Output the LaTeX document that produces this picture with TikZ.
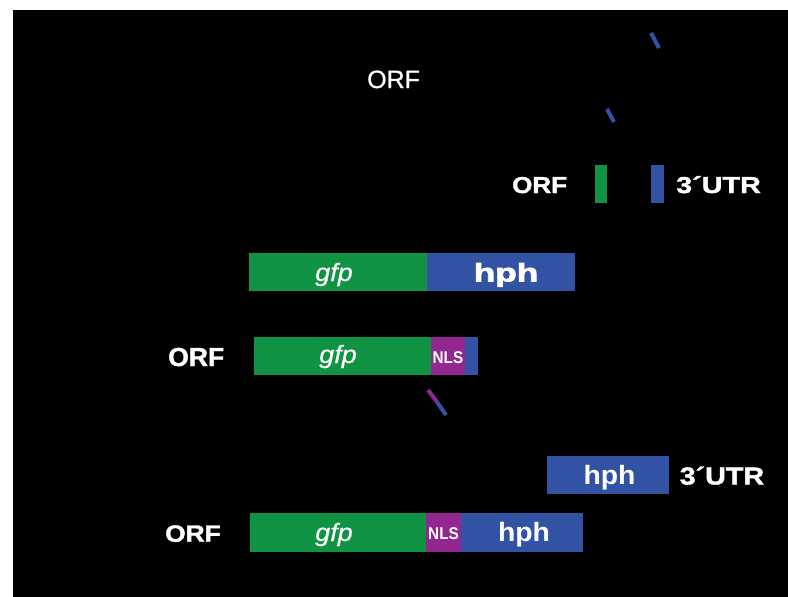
\documentclass[tikz,border=0pt]{standalone}
\usepackage{fontspec}
\usepackage{graphicx}
\setmainfont{Liberation Sans}
\newfontfamily\heavy{Liberation Sans Bold}[FakeBold=1.5]
\newfontfamily\heavier{Liberation Sans Bold}[FakeBold=2.5]
\newfontfamily\semi{Liberation Sans}[FakeBold=0.8]
\newfontfamily\slanted{Liberation Sans Italic}[FakeBold=0.4]
\definecolor{genegreen}{RGB}{16,148,68}
\definecolor{geneblue}{RGB}{50,82,164}
\definecolor{nlspurple}{RGB}{146,39,143}
\newcommand\fs[1]{\fontsize{#1}{#1}\selectfont}
\newcommand\hs[2]{\scalebox{#1}[1]{#2}}

\begin{document}
\begin{tikzpicture}[x=1pt,y=-1pt,
  seg/.style={draw=none, inner sep=0pt, outer sep=0pt, anchor=north west},
  lbl/.style={text=white, inner sep=0pt, anchor=base},
  lbll/.style={lbl, anchor=base west},
  tick/.style={line width=4pt}]
\useasboundingbox (0,0) rectangle (788,597);
\fill[white] (0,0) rectangle (788,597);
\fill[black] (13,10) rectangle (788,597);

% short strokes
\draw[tick, geneblue] (651,33) -- (659,48);
\draw[tick, geneblue] (607,109) -- (614,122);
\draw[tick, nlspurple] (428,390) -- (437,402);
\draw[tick, geneblue] (437,402) -- (446,415);

% top label
\node[lbll] (orfA) at (367,88) {\semi\fs{25}ORF};

% row 2: ORF | 3'UTR
\node[lbll] (orfB) at (512,193) {\heavy\fs{23}\hs{1.13}{ORF}};
\node[seg, fill=genegreen, minimum width=12pt, minimum height=38pt] (gB) at (595,165) {};
\node[seg, fill=geneblue, minimum width=13pt, minimum height=38pt] (bB) at (651,165) {};
\node[lbll] (utrB) at (676,193) {\heavy\fs{23}\hs{1.25}{3´UTR}};

% row 3: gfp-hph fusion
\node[seg, fill=genegreen, minimum width=178pt, minimum height=38pt] (gC) at (249,253) {};
\node[seg, fill=geneblue, minimum width=148pt, minimum height=38pt] (bC) at (427,253) {};
\node[lbl] (gfpC) at (334,281) {\slanted\fs{25}\hs{1.08}{gfp}};
\node[lbl] (hphC) at (506,281.5) {\heavier\fs{25.5}\hs{1.38}{hph}};

% row 4: ORF gfp NLS
\node[lbll] (orfD) at (168,366) {\heavy\fs{26}\hs{1.02}{ORF}};
\node[seg, fill=genegreen, minimum width=177pt, minimum height=38pt] (gD) at (254,337) {};
\node[seg, fill=nlspurple, minimum width=34pt, minimum height=38pt] (nD) at (431,337) {};
\node[seg, fill=geneblue, minimum width=13pt, minimum height=38pt] (bD) at (465,337) {};
\node[lbl] (gfpD) at (338,363) {\slanted\fs{25}\hs{1.08}{gfp}};
\node[lbl] (nlsD) at (448,363) {\bfseries\fs{17}\hs{0.9}{NLS}};

% row 5: hph 3'UTR
\node[seg, fill=geneblue, minimum width=122.5pt, minimum height=38pt] (bE) at (546.5,456) {};
\node[lbl] (hphE) at (609.5,484.5) {\bfseries\fs{26.5}\hs{1.07}{hph}};
\node[lbll] (utrE) at (679.5,484.5) {\heavy\fs{24.5}\hs{1.17}{3´UTR}};

% row 6: ORF gfp NLS hph
\node[lbll] (orfF) at (165,541.7) {\heavy\fs{23.5}\hs{1.12}{ORF}};
\node[seg, fill=genegreen, minimum width=176.8pt, minimum height=39pt] (gF) at (249.6,513) {};
\node[seg, fill=nlspurple, minimum width=34.2pt, minimum height=39pt] (nF) at (426.4,513) {};
\node[seg, fill=geneblue, minimum width=122.4pt, minimum height=39pt] (bF) at (460.6,513) {};
\node[lbl] (gfpF) at (334,541) {\slanted\fs{25}\hs{1.08}{gfp}};
\node[lbl] (nlsF) at (443.5,539.5) {\bfseries\fs{17}\hs{0.9}{NLS}};
\node[lbl] (hphF) at (524,541) {\bfseries\fs{26.5}\hs{1.07}{hph}};
\end{tikzpicture}
\end{document}
